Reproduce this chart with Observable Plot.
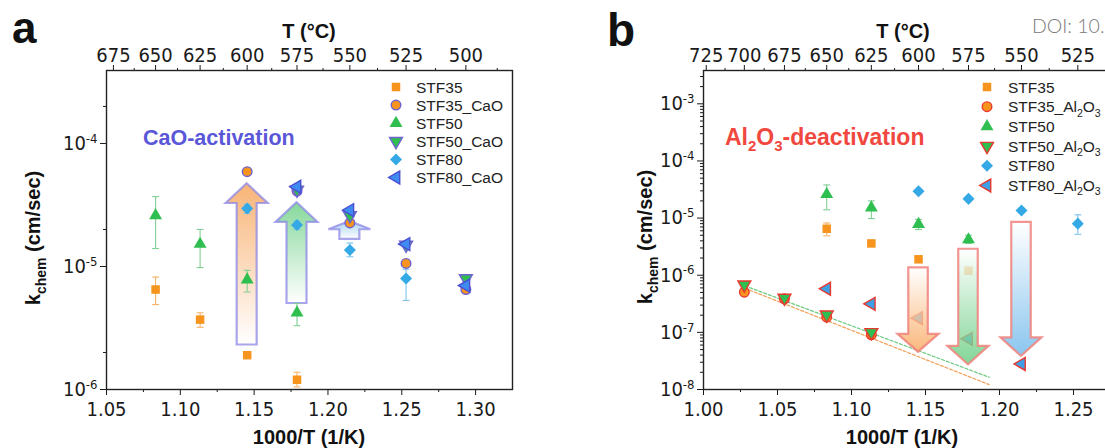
<!DOCTYPE html>
<html><head><meta charset="utf-8">
<script src="https://cdn.jsdelivr.net/npm/d3@7"></script>
<script src="https://cdn.jsdelivr.net/npm/@observablehq/plot@0.6"></script>
<style>
html,body{margin:0;padding:0;background:#fff;}
#wrap{position:relative;width:1105px;height:448px;overflow:hidden;background:#fff;}
#pa,#pb{position:absolute;top:0;width:552px;height:448px;}
#pa{left:0;} #pb{left:597px;}
#ov{position:absolute;left:0;top:0;pointer-events:none;}
</style></head>
<body><div id="wrap"><div id="pa"></div><div id="pb"></div><svg id="ov" width="1105" height="448"></svg></div>
<script>
// ---------------- DATA ----------------
// panel a (temperatures in °C; x = 1000/T(K))
const tempsA   = [650, 625, 600, 575, 550, 525, 500];
const stf35A   = [6.5e-6, 3.7e-6, 1.9e-6, 1.2e-6, null, null, null];
const stf35LoA = [4.9e-6, 3.2e-6, null, 1.05e-6, null, null, null];
const stf35HiA = [8.2e-6, 4.2e-6, null, 1.38e-6, null, null, null];
const stf35CaO = [null, null, 5.9e-5, 4.1e-5, 2.26e-5, 1.06e-5, 6.5e-6];
const stf50A   = [2.6e-5, 1.52e-5, 7.8e-6, 4.2e-6, null, null, null];
const stf50LoA = [1.4e-5, 9.8e-6, 6.2e-6, 3.3e-6, null, null, null];
const stf50HiA = [3.7e-5, 2.0e-5, 9.3e-6, 5.0e-6, null, null, null];
const stf50CaO = [null, null, null, 4.2e-5, 2.6e-5, 1.5e-5, 8.0e-6];
const stf80A   = [null, null, 2.96e-5, 2.17e-5, 1.36e-5, 8.0e-6, null];
const stf80LoA = [null, null, 2.7e-5, 2.0e-5, 1.2e-5, 5.3e-6, null];
const stf80HiA = [null, null, 3.2e-5, 2.35e-5, 1.55e-5, 9.5e-6, null];
const stf80CaO = [null, null, null, 4.45e-5, 2.87e-5, 1.52e-5, 7.0e-6];
const seriesA  = ["STF35", "STF35_CaO", "STF50", "STF50_CaO", "STF80", "STF80_CaO"];

// panel b
const tempsB   = [700, 675, 650, 625, 600, 575, 550, 525];
const stf35B   = [null, null, 6.5e-6, 3.6e-6, 1.9e-6, 1.2e-6, null, null];
const stf35LoB = [null, null, 4.9e-6, 3.3e-6, null, null, null, null];
const stf35HiB = [null, null, 8.2e-6, 4.0e-6, null, null, null, null];
const stf35Al  = [5.05e-7, 3.87e-7, 1.84e-7, 9.05e-8, null, null, null, null];
const stf50B   = [null, null, 2.6e-5, 1.52e-5, 7.8e-6, 4.2e-6, null, null];
const stf50LoB = [null, null, 1.4e-5, 9.8e-6, 6.3e-6, 3.6e-6, null, null];
const stf50HiB = [null, null, 3.8e-5, 2.0e-5, 9.5e-6, 5.0e-6, null, null];
const stf50Al  = [6.8e-7, 4.0e-7, 2.03e-7, 1.0e-7, null, null, null, null];
const stf80B   = [null, null, null, null, 2.96e-5, 2.17e-5, 1.36e-5, 8.0e-6];
const stf80LoB = [null, null, null, null, 2.8e-5, 2.05e-5, 1.28e-5, 5.2e-6];
const stf80HiB = [null, null, null, null, 3.1e-5, 2.3e-5, 1.45e-5, 1.14e-5];
const stf80Al  = [null, null, 5.8e-7, 3.16e-7, 1.77e-7, 7.7e-8, 2.8e-8, null];
const seriesB  = ["STF35", "STF35_Al2O3", "STF50", "STF50_Al2O3", "STF80", "STF80_Al2O3"];

// dashed Arrhenius fits (panel b)
const fitX    = [1.028, 1.193];
const fitSTF35 = [5.9e-7, 1.22e-8];
const fitSTF50 = [6.5e-7, 1.64e-8];

// arrows: temperature, base, neck (head start), tip
const arrowTA    = [600, 575, 550];
const arrowBaseA = [2.3e-6, 5.0e-6, 1.66e-5];
const arrowNeckA = [3.25e-5, 2.28e-5, 1.99e-5];
const arrowTipA  = [4.7e-5, 3.3e-5, 2.32e-5];
const arrowTB    = [600, 575, 550];
const arrowBaseB = [1.35e-6, 2.85e-6, 8.4e-6];
const arrowNeckB = [9.2e-8, 5.7e-8, 8.0e-8];
const arrowTipB  = [4.5e-8, 2.7e-8, 3.8e-8];

// ticks
const xTicksA = [1.05, 1.10, 1.15, 1.20, 1.25, 1.30];
const xMinorA = [1.075, 1.125, 1.175, 1.225, 1.275];
const tTicksA = [675, 650, 625, 600, 575, 550, 525, 500];
const tMinorA = [662.5, 637.5, 612.5, 587.5, 562.5, 537.5, 512.5, 487.5];
const yTicksA = [1e-6, 1e-5, 1e-4];
const yMinorA = [2e-6, 2e-5, 2e-4];
const xTicksB = [1.00, 1.05, 1.10, 1.15, 1.20, 1.25];
const xMinorB = [1.025, 1.075, 1.125, 1.175, 1.225];
const tTicksB = [725, 700, 675, 650, 625, 600, 575, 550, 525];
const tMinorB = [712.5, 687.5, 662.5, 637.5, 612.5, 587.5, 562.5, 537.5, 512.5];
const yTicksB = [1e-8, 1e-7, 1e-6, 1e-5, 1e-4, 1e-3];
const yMinorB = [-8, -7, -6, -5, -4, -3].flatMap(e => [2,3,4,5,6,7,8,9].map(m => m * 10 ** e)).filter(v => v < 3.8e-3);

// ---------------- HELPERS ----------------
const toX = T => 1000 / (T + 273.15);
function pts(temps, k, lo, hi) {
  return temps.map((T, i) => ({x: toX(T), k: k[i], lo: lo ? lo[i] : null, hi: hi ? hi[i] : null}))
              .filter(d => d.k != null);
}
const S3 = Math.sqrt(3);
const symSquare = {draw(c, s) { const w = Math.sqrt(s); c.rect(-w/2, -w/2, w, w); }};
const symCircle = d3.symbolCircle;
const symTriUp = {draw(c, s) { const y = -Math.sqrt(s / (S3 * 3)); c.moveTo(0, 2*y); c.lineTo(-S3*y, -y); c.lineTo(S3*y, -y); c.closePath(); }};
const symTriDown = {draw(c, s) { const y = -Math.sqrt(s / (S3 * 3)); c.moveTo(0, -2*y); c.lineTo(-S3*y, y); c.lineTo(S3*y, y); c.closePath(); }};
const symTriLeft = {draw(c, s) { const y = -Math.sqrt(s / (S3 * 3)); c.moveTo(2*y, 0); c.lineTo(-y, -S3*y); c.lineTo(-y, S3*y); c.closePath(); }};
const symDiamond = {draw(c, s) { const h = Math.sqrt(s) * 0.7071; c.moveTo(0, -h); c.lineTo(h, 0); c.lineTo(0, h); c.lineTo(-h, 0); c.closePath(); }};
const symCap = {draw(c, s) { const w = Math.sqrt(s); c.moveTo(-w/2, 0); c.lineTo(w/2, 0); }};

const ORANGE = "#f7941d", GREEN = "#2fbf50", BLUE = "#35a9e6", BLUE2 = "#3e8cf0";
const PURPLE = "#6f62cf", RED = "#e8392f";
const R = 4.8;

function errMarks(data, color) {
  const e = data.filter(d => d.lo != null);
  return [
    Plot.ruleX(e, {x: "x", y1: "lo", y2: "hi", stroke: color, strokeWidth: 1.1}),
    Plot.dot(e, {x: "x", y: "lo", symbol: symCap, r: 3.9, stroke: color, strokeWidth: 1.1}),
    Plot.dot(e, {x: "x", y: "hi", symbol: symCap, r: 3.9, stroke: color, strokeWidth: 1.1})
  ];
}
function dots(data, symbol, fill, stroke) {
  return Plot.dot(data, {x: "x", y: "k", symbol, r: R, fill, stroke: stroke || "none", strokeWidth: stroke ? 1.4 : 0});
}
function arrowMark(temps, base, neck, tip, o) {
  return (index, scales) => {
    const g = d3.create("svg:g");
    const defs = g.append("defs");
    temps.forEach((T, i) => {
      const id = o.id + i;
      const lg = defs.append("linearGradient").attr("id", id)
        .attr("x1", 0).attr("y1", 0).attr("x2", 0).attr("y2", 1);
      lg.append("stop").attr("offset", "0%").attr("stop-color", o.top[i]);
      lg.append("stop").attr("offset", "100%").attr("stop-color", o.bottom[i]);
      const cx = scales.x(toX(T));
      const yb = scales.y(base[i]), yn = scales.y(neck[i]), yt = scales.y(tip[i]);
      const s = o.shaft / 2, h = o.head / 2;
      g.append("path")
        .attr("d", `M${cx-s},${yb}L${cx-s},${yn}L${cx-h},${yn}L${cx},${yt}L${cx+h},${yn}L${cx+s},${yn}L${cx+s},${yb}Z`)
        .attr("fill", `url(#${id})`).attr("fill-opacity", o.opacity)
        .attr("stroke", o.stroke).attr("stroke-width", 2.2);
    });
    return g.node();
  };
}
const tickFont = "'Liberation Sans Narrow','Arial Narrow','DejaVu Sans Condensed','Liberation Sans',Arial,sans-serif";
const baseStyle = {fontFamily: tickFont, fontSize: "20px", color: "#1a1a1a", background: "transparent", overflow: "visible", maxWidth: "none"};
const expFmt = d => String(Math.round(Math.log10(d)));
const tFmt = d => String(Math.round(1000 / d - 273.15));

function axes(xT, xM, tT, tM, yT, yM) {
  return [
    Plot.axisX(xT, {anchor: "bottom", tickSize: 6, tickPadding: 6, tickFormat: d3.format(".2f"), fontSize: 20, label: null}),
    Plot.axisX(xM, {anchor: "bottom", tickSize: 3, tickFormat: () => "", label: null}),
    Plot.axisX(tT.map(toX), {anchor: "top", tickSize: 6, tickPadding: 3, tickFormat: tFmt, fontSize: 20, label: null}),
    Plot.axisX(tM.map(toX), {anchor: "top", tickSize: 3, tickFormat: () => "", label: null}),
    Plot.axisY(yT, {anchor: "left", tickSize: 6, tickPadding: 3, tickFormat: expFmt, fontSize: 20, label: null}),
    Plot.axisY(yM, {anchor: "left", tickSize: 3, tickFormat: () => "", label: null})
  ];
}

// ---------------- PANEL A ----------------
const pA35 = pts(tempsA, stf35A, stf35LoA, stf35HiA);
const pA35c = pts(tempsA, stf35CaO);
const pA50 = pts(tempsA, stf50A, stf50LoA, stf50HiA);
const pA50c = pts(tempsA, stf50CaO);
const pA80 = pts(tempsA, stf80A, stf80LoA, stf80HiA);
const pA80c = pts(tempsA, stf80CaO);

const chartA = Plot.plot({
  width: 552, height: 448,
  marginLeft: 106, marginRight: 40, marginTop: 70, marginBottom: 59,
  style: baseStyle,
  x: {domain: [1.05, 1.325]},
  y: {type: "log", domain: [1e-6, 3.92e-4]},
  marks: [
    ...axes(xTicksA, xMinorA, tTicksA, tMinorA, yTicksA, yMinorA),
    arrowMark(arrowTA, arrowBaseA, arrowNeckA, arrowTipA, {
      id: "ga", shaft: 20, head: 42, opacity: 1, stroke: "rgba(140,135,230,0.75)",
      top: ["#f8b477", "#86d89b", "#a8d2f3"], bottom: ["#ffffff", "#ffffff", "#ffffff"]}),
    ...errMarks(pA35, "#f6b36a"),
    ...errMarks(pA50, "#80cf94"),
    ...errMarks(pA80, "#7cc4ee"),
    dots(pA35, symSquare, ORANGE),
    dots(pA35c, symCircle, ORANGE, PURPLE),
    dots(pA50, symTriUp, GREEN),
    dots(pA50c, symTriDown, GREEN, PURPLE),
    dots(pA80, symDiamond, BLUE),
    dots(pA80c, symTriLeft, BLUE2, "#4b4fd6"),
    Plot.frame({stroke: "#222", strokeWidth: 1.4})
  ]
});
document.getElementById("pa").appendChild(chartA);

// ---------------- PANEL B ----------------
const pB35 = pts(tempsB, stf35B, stf35LoB, stf35HiB);
const pB35a = pts(tempsB, stf35Al);
const pB50 = pts(tempsB, stf50B, stf50LoB, stf50HiB);
const pB50a = pts(tempsB, stf50Al);
const pB80 = pts(tempsB, stf80B, stf80LoB, stf80HiB);
const pB80a = pts(tempsB, stf80Al);
const fitRows = fitX.map((x, i) => ({x, a: fitSTF35[i], b: fitSTF50[i]}));

const chartB = Plot.plot({
  width: 552, height: 448,
  marginLeft: 106, marginRight: 40, marginTop: 70, marginBottom: 59,
  style: baseStyle,
  x: {domain: [1.00, 1.2743]},
  y: {type: "log", domain: [1e-8, 3.83e-3]},
  marks: [
    ...axes(xTicksB, xMinorB, tTicksB, tMinorB, yTicksB, yMinorB),
    Plot.line(fitRows, {x: "x", y: "b", stroke: "#6fcb86", strokeWidth: 1.3, strokeDasharray: "3,2"}),
    Plot.line(fitRows, {x: "x", y: "a", stroke: "#f2a25c", strokeWidth: 1.3, strokeDasharray: "3,2"}),
    ...errMarks(pB35, "#f6b36a"),
    ...errMarks(pB50, "#80cf94"),
    ...errMarks(pB80, "#7cc4ee"),
    dots(pB35, symSquare, ORANGE),
    dots(pB35a, symCircle, ORANGE, RED),
    dots(pB50, symTriUp, GREEN),
    dots(pB50a, symTriDown, GREEN, RED),
    dots(pB80, symDiamond, BLUE),
    dots(pB80a, symTriLeft, "#3d9fe6", RED),
    arrowMark(arrowTB, arrowBaseB, arrowNeckB, arrowTipB, {
      id: "gb", shaft: 19.5, head: 41, opacity: 0.78, stroke: "rgba(240,130,125,0.85)",
      top: ["#ffffff", "#ffffff", "#ffffff"], bottom: ["#f9a458", "#5fca7a", "#6ab6ea"]}),
    Plot.frame({stroke: "#222", strokeWidth: 1.4})
  ]
});
document.getElementById("pb").appendChild(chartB);

// superscript exponents on log tick labels
const NS = "http://www.w3.org/2000/svg";
[chartA, chartB].forEach(svg => {
  svg.querySelectorAll('g[aria-label="y-axis tick label"] text').forEach(t => {
    const e = t.textContent;
    if (!e) return;
    t.textContent = "10";
    const ts = document.createElementNS(NS, "tspan");
    ts.setAttribute("dy", "-0.55em");
    ts.setAttribute("font-size", "13px");
    ts.textContent = e;
    t.appendChild(ts);
  });
});

// ---------------- OVERLAY TEXT & LEGENDS ----------------
const ov = d3.select("#ov");
const SANS = "'Liberation Sans',Arial,Helvetica,sans-serif";
function rich(x, y, parts, attrs) {
  const t = ov.append("text").attr("x", x).attr("y", y).attr("font-family", SANS);
  Object.entries(attrs || {}).forEach(([k, v]) => t.attr(k, v));
  let shift = 0;
  parts.forEach(p => {
    const [str, mode, sz] = Array.isArray(p) ? p : [p, null];
    const target = mode === "sub" ? 0.28 : mode === "sup" ? -0.4 : 0;
    const ts = t.append("tspan").text(str);
    const fs = parseFloat(attrs["font-size"]);
    const dy = (target - shift) * fs;
    if (dy) ts.attr("dy", dy);
    if (mode) ts.attr("font-size", sz || fs * 0.68);
    shift = target;
  });
  return t;
}
function label(name) {
  const m = name.match(/^(.*)_Al2O3$/);
  if (m) return [m[1] + "_Al", ["2", "sub"], "O", ["3", "sub"]];
  return [name];
}

rich(12, 43, ["a"], {"font-size": 44, "font-weight": "bold", fill: "#111"});
rich(607, 46, ["b"], {"font-size": 46, "font-weight": "bold", fill: "#111"});
rich(309, 38, ["T (°C)"], {"font-size": 20, "font-weight": "bold", "text-anchor": "middle", fill: "#111"});
rich(903, 38, ["T (°C)"], {"font-size": 20, "font-weight": "bold", "text-anchor": "middle", fill: "#111"});
rich(1032, 33, ["DOI: 10."], {"font-size": 19.5, fill: "#7a7a7a", "font-family": "Lato, 'Open Sans', sans-serif", "font-weight": 300});
rich(309, 444, ["1000/T (1/K)"], {"font-size": 20, "font-weight": "bold", "text-anchor": "middle", fill: "#111"});
rich(902, 444, ["1000/T (1/K)"], {"font-size": 20, "font-weight": "bold", "text-anchor": "middle", fill: "#111"});
rich(0, 0, ["k", ["chem", "sub", 14], " (cm/sec)"], {"font-size": 20, "font-weight": "bold", "text-anchor": "middle", fill: "#111", transform: "translate(40,238) rotate(-90)"});
rich(0, 0, ["k", ["chem", "sub", 14], " (cm/sec)"], {"font-size": 20, "font-weight": "bold", "text-anchor": "middle", fill: "#111", transform: "translate(652,237) rotate(-90)"});
rich(143, 145, ["CaO-activation"], {"font-size": 21.5, "font-weight": "bold", fill: "#5a57d8"});
rich(725, 145, ["Al", ["2", "sub", 15], "O", ["3", "sub", 15], "-deactivation"], {"font-size": 23, "font-weight": "bold", fill: "#f0473e"});

const legA = [
  [symSquare, ORANGE, null], [symCircle, ORANGE, PURPLE], [symTriUp, GREEN, null],
  [symTriDown, GREEN, PURPLE], [symDiamond, BLUE, null], [symTriLeft, BLUE2, "#4b4fd6"]];
const legB = [
  [symSquare, ORANGE, null], [symCircle, ORANGE, RED], [symTriUp, GREEN, null],
  [symTriDown, GREEN, RED], [symDiamond, BLUE, null], [symTriLeft, "#3d9fe6", RED]];
function legend(names, styles, mx, tx, y0, dy) {
  names.forEach((n, i) => {
    const y = y0 + i * dy;
    const [sym, fill, stroke] = styles[i];
    ov.append("path").attr("d", d3.symbol(sym, Math.PI * R * R)())
      .attr("transform", `translate(${mx},${y})`).attr("fill", fill)
      .attr("stroke", stroke || "none").attr("stroke-width", stroke ? 1.4 : 0);
    rich(tx, y + 5.5, label(n), {"font-size": 15.5, fill: "#222"});
  });
}
legend(seriesA, legA, 396, 416, 87, 18.1);
legend(seriesB, legB, 987, 1008, 87, 19.7);
</script>
</body></html>
